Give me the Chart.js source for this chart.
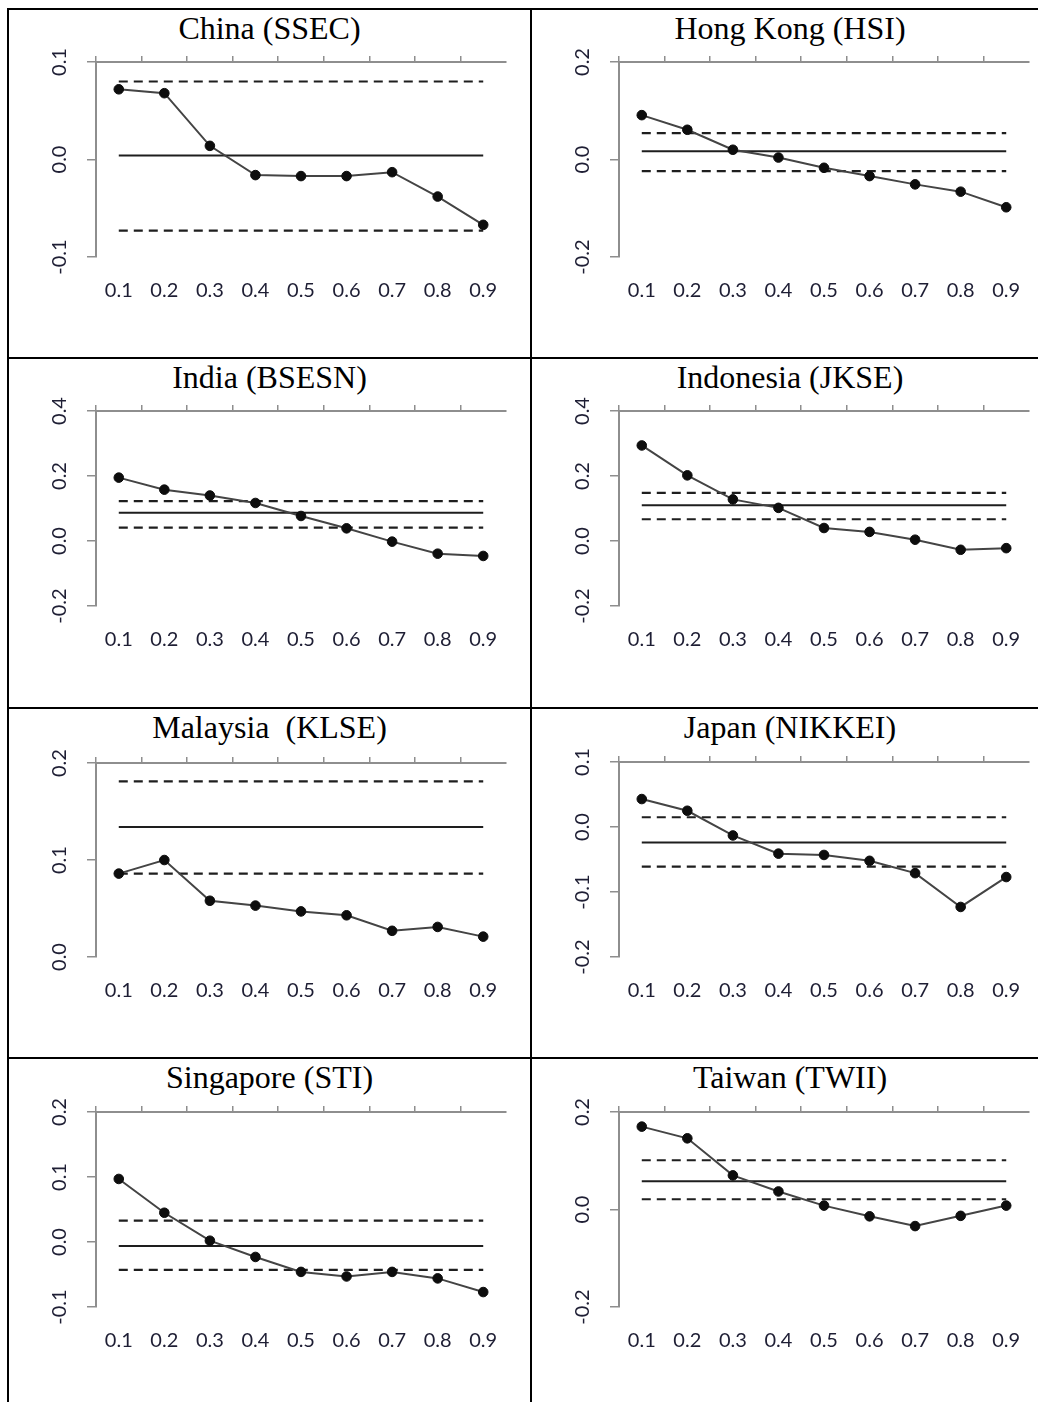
<!DOCTYPE html>
<html>
<head>
<meta charset="utf-8">
<script src="https://cdn.jsdelivr.net/npm/chart.js@4.4.1/dist/chart.umd.min.js"></script>
<style>
  html, body { margin: 0; padding: 0; background: #fff; overflow: hidden; width: 1038px; height: 1402px; }
  .rule { position: absolute; background: #000; }
  .title { position: absolute; text-align: center; font: 32px "Liberation Serif", "Times New Roman", serif; line-height: 36px; color: #000; white-space: nowrap; }
  canvas { position: absolute; }
</style>
</head>
<body>
<div class="rule" style="left:7px;top:8px;width:2px;height:1394px"></div>
<div class="rule" style="left:530px;top:8px;width:2px;height:1394px"></div>
<div class="rule" style="left:7px;top:8px;width:1031px;height:2px"></div>
<div class="rule" style="left:7px;top:357px;width:1031px;height:2px"></div>
<div class="rule" style="left:7px;top:707px;width:1031px;height:2px"></div>
<div class="rule" style="left:7px;top:1057px;width:1031px;height:2px"></div>

<div class="title" style="left:9px;top:10px;width:521px">China (SSEC)</div>
<div class="title" style="left:532px;top:10px;width:516px">Hong Kong (HSI)</div>
<div class="title" style="left:9px;top:359px;width:521px">India (BSESN)</div>
<div class="title" style="left:532px;top:359px;width:516px">Indonesia (JKSE)</div>
<div class="title" style="left:9px;top:709px;width:521px">Malaysia&nbsp; (KLSE)</div>
<div class="title" style="left:532px;top:709px;width:516px">Japan (NIKKEI)</div>
<div class="title" style="left:9px;top:1059px;width:521px">Singapore (STI)</div>
<div class="title" style="left:532px;top:1059px;width:516px">Taiwan (TWII)</div>

<canvas id="china" width="520" height="300" style="left:10px;top:45px"></canvas>
<canvas id="hongkong" width="520" height="300" style="left:533px;top:45px"></canvas>
<canvas id="india" width="520" height="300" style="left:10px;top:394px"></canvas>
<canvas id="indonesia" width="520" height="300" style="left:533px;top:394px"></canvas>
<canvas id="malaysia" width="520" height="300" style="left:10px;top:745px"></canvas>
<canvas id="japan" width="520" height="300" style="left:533px;top:745px"></canvas>
<canvas id="singapore" width="520" height="300" style="left:10px;top:1095px"></canvas>
<canvas id="taiwan" width="520" height="300" style="left:533px;top:1095px"></canvas>

<script>
// quantile labels shared by every panel
const quantiles = ["0.1", "0.2", "0.3", "0.4", "0.5", "0.6", "0.7", "0.8", "0.9"];

// estimates per quantile; band = [upper dashed, solid, lower dashed]
const chinaVals = [0.072, 0.068, 0.014, -0.016, -0.017, -0.017, -0.013, -0.038, -0.067];
const chinaBand = [0.080, 0.004, -0.073];
const chinaTicks = [-0.1, 0, 0.1];

const hongkongVals = [0.091, 0.061, 0.020, 0.004, -0.017, -0.034, -0.051, -0.066, -0.098];
const hongkongBand = [0.054, 0.017, -0.024];
const hongkongTicks = [-0.2, 0, 0.2];

const indiaVals = [0.195, 0.158, 0.140, 0.117, 0.077, 0.039, -0.002, -0.039, -0.046];
const indiaBand = [0.123, 0.087, 0.041];
const indiaTicks = [-0.2, 0, 0.2, 0.4];

const indonesiaVals = [0.294, 0.202, 0.128, 0.102, 0.040, 0.028, 0.004, -0.027, -0.022];
const indonesiaBand = [0.148, 0.110, 0.067];
const indonesiaTicks = [-0.2, 0, 0.2, 0.4];

const malaysiaVals = [0.086, 0.100, 0.058, 0.053, 0.047, 0.043, 0.027, 0.031, 0.021];
const malaysiaBand = [0.181, 0.134, 0.086];
const malaysiaTicks = [0, 0.1, 0.2];

const japanVals = [0.043, 0.025, -0.013, -0.041, -0.043, -0.052, -0.071, -0.123, -0.077];
const japanBand = [0.015, -0.024, -0.061];
const japanTicks = [-0.2, -0.1, 0, 0.1];

const singaporeVals = [0.097, 0.045, 0.002, -0.023, -0.046, -0.053, -0.046, -0.056, -0.077];
const singaporeBand = [0.033, -0.006, -0.043];
const singaporeTicks = [-0.1, 0, 0.1, 0.2];

const taiwanVals = [0.170, 0.146, 0.070, 0.037, 0.008, -0.014, -0.034, -0.013, 0.008];
const taiwanBand = [0.101, 0.058, 0.021];
const taiwanTicks = [-0.2, 0, 0.2];

const AXIS = "#8e8e8e";
const TXT = "#1e1e34";
const xFont = { family: "Lato", size: 20 };
const yFont = { family: "Lato", size: 20, lineHeight: 0.5 }; // small lineHeight keeps layout padding off the plot top

// horizontal reference line across all quantiles
const flat = (v) => [{ x: quantiles[0], y: v }, { x: quantiles[quantiles.length - 1], y: v }];

// keep rotated y labels centred ~36px left of the axis
function yPadding(ticks) {
  const c = document.createElement("canvas").getContext("2d");
  c.font = "20px Lato";
  const w = Math.max(...ticks.map((t) => c.measureText(t.toFixed(1)).width));
  return 27 - w / 2;
}

function makeChart(id, values, band, ticks) {
  new Chart(document.getElementById(id), {
    type: "line",
    data: {
      labels: quantiles,
      datasets: [
        { data: values, borderColor: "#444", borderWidth: 2, tension: 0,
          pointRadius: 4.8, pointBackgroundColor: "#0d0d0d", pointBorderColor: "#0d0d0d", pointBorderWidth: 1 },
        { data: flat(band[1]), borderColor: "#1e1e1e", borderWidth: 2, pointRadius: 0 },
        { data: flat(band[0]), borderColor: "#1e1e1e", borderWidth: 2.2, borderDash: [9, 6], pointRadius: 0 },
        { data: flat(band[2]), borderColor: "#1e1e1e", borderWidth: 2.2, borderDash: [9, 6], pointRadius: 0 },
      ],
    },
    options: {
      responsive: false,
      animation: false,
      events: [],
      layout: { padding: { left: 0, top: 0, right: 24, bottom: 0 } },
      plugins: { legend: { display: false }, tooltip: { enabled: false } },
      scales: {
        x: {
          position: "bottom",
          offset: true,
          border: { display: false },
          grid: { display: false, drawTicks: false },
          ticks: { font: xFont, color: TXT, padding: 22, maxRotation: 0, autoSkip: false },
          afterFit: (s) => { s.height = 88; },
        },
        xTop: {
          type: "category",
          position: "top",
          offset: true,
          border: { color: AXIS, width: 2 },
          grid: {
            offset: true, drawOnChartArea: false, drawTicks: true, tickLength: 6, lineWidth: 1.5,
            color: (c) => (c.type === "tick" ? AXIS : "rgba(0,0,0,0)"),
          },
          ticks: { display: false },
          afterFit: (s) => { s.height = 17; },
        },
        y: {
          min: ticks[0],
          max: ticks[ticks.length - 1],
          border: { color: AXIS, width: 2 },
          grid: { drawOnChartArea: false, tickLength: 9, color: AXIS, lineWidth: 1.5 },
          ticks: {
            stepSize: ticks[1] - ticks[0], font: yFont, color: TXT,
            minRotation: 90, maxRotation: 90, crossAlign: "center",
            padding: yPadding(ticks), autoSkip: false,
            callback: (v) => Number(v).toFixed(1),
          },
          afterFit: (s) => { s.width = 86; },
        },
      },
    },
  });
}

makeChart("china", chinaVals, chinaBand, chinaTicks);
makeChart("hongkong", hongkongVals, hongkongBand, hongkongTicks);
makeChart("india", indiaVals, indiaBand, indiaTicks);
makeChart("indonesia", indonesiaVals, indonesiaBand, indonesiaTicks);
makeChart("malaysia", malaysiaVals, malaysiaBand, malaysiaTicks);
makeChart("japan", japanVals, japanBand, japanTicks);
makeChart("singapore", singaporeVals, singaporeBand, singaporeTicks);
makeChart("taiwan", taiwanVals, taiwanBand, taiwanTicks);
</script>
</body>
</html>
